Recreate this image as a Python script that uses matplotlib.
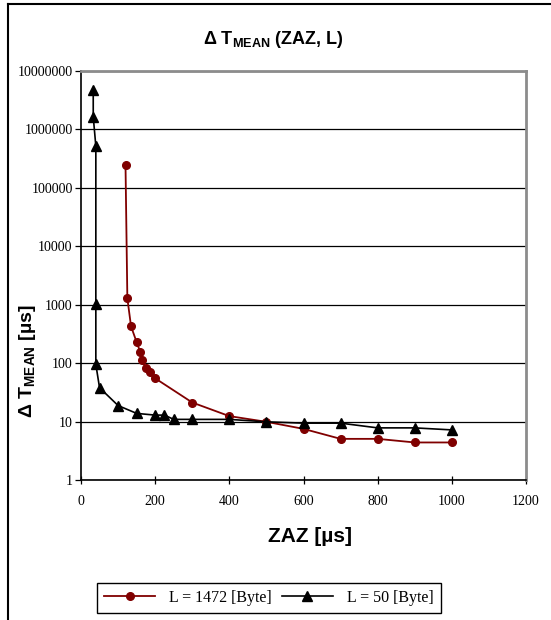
import numpy as np
import matplotlib
matplotlib.use("Agg")
import matplotlib.pyplot as plt
from matplotlib.lines import Line2D

# L = 1472 Byte
zaz_1472 = [120, 125, 135, 150, 160, 165, 175, 185, 200, 300, 400, 500, 600, 700, 800, 900, 1000]
dt_1472 = [250000, 1280, 425, 229, 154, 113, 81, 70, 55, 21.2, 12.4, 9.9, 7.5, 5.06, 5.06, 4.39, 4.39]

# L = 50 Byte
zaz_50 = [33, 33, 40, 40, 40, 50, 100, 150, 200, 225, 250, 300, 400, 500, 600, 700, 800, 900, 1000]
dt_50 = [4700000, 1650000, 520000, 1010, 95, 38, 18.8, 13.8, 12.9, 12.9, 10.9, 10.9, 10.9, 9.9, 9.4, 9.4, 7.8, 7.8, 7.2]

x_ticks = [0, 200, 400, 600, 800, 1000, 1200]
y_ticks = [1, 10, 100, 1000, 10000, 100000, 1000000, 10000000]

plt.rcParams['mathtext.fontset'] = 'custom'
plt.rcParams['mathtext.rm'] = 'Liberation Sans'
plt.rcParams['mathtext.bf'] = 'Liberation Sans:bold'

fig = plt.figure(figsize=(5.51, 6.2), dpi=100)
ax = fig.add_axes([81/551, 1 - 480/620, 445/551, 409/620])

ax.plot(zaz_1472, dt_1472, color='#800000', lw=1.3, marker='o', ms=5.5,
        label='L = 1472 [Byte]')
ax.plot(zaz_50, dt_50, color='black', lw=1.2, marker='^', ms=6.5,
        label='L = 50 [Byte]')

ax.set_yscale('log')
ax.set_xlim(0, 1200)
ax.set_ylim(1, 1e7)
ax.set_xticks(x_ticks)
ax.set_yticks(y_ticks)
ax.set_yticklabels([str(v) for v in y_ticks])
ax.minorticks_off()
ax.yaxis.grid(True, color='black', lw=0.9)
ax.set_axisbelow(True)

for lab in ax.get_xticklabels() + ax.get_yticklabels():
    lab.set_fontfamily('Liberation Serif')
    lab.set_fontsize(10)
ax.tick_params(axis='y', direction='out', length=4, width=0.9, pad=2)
ax.tick_params(axis='x', direction='inout', length=6, width=0.9, pad=8)

ax.spines['left'].set_color('black')
ax.spines['bottom'].set_color('black')
ax.spines['left'].set_linewidth(1.2)
ax.spines['bottom'].set_linewidth(1.2)
ax.spines['top'].set_color('#8c8c8c')
ax.spines['right'].set_color('#8c8c8c')
ax.spines['top'].set_linewidth(2)
ax.spines['right'].set_linewidth(2)

fig.text(273/551, 1 - 40/620, r'Δ T$_{\mathbf{MEAN}}$ (ZAZ, L)', ha='center', va='center',
         fontsize=13, fontweight='bold', family='Liberation Sans')
fig.text(310/551, 1 - 537/620, 'ZAZ [µs]', ha='center', va='center',
         fontsize=15, fontweight='bold', family='Liberation Sans')
fig.text(27/551, 1 - 361/620, r'Δ T$_{\mathbf{MEAN}}$ [µs]', ha='center', va='center',
         rotation=90, fontsize=14, fontweight='bold', family='Liberation Sans')

leg = fig.legend(loc='center', bbox_to_anchor=(269/551, 1 - 598/620), ncol=2,
                 frameon=True, fancybox=False, edgecolor='black', framealpha=1,
                 prop={'family': 'Liberation Serif', 'size': 11.5},
                 handlelength=3.2, columnspacing=0.6, handletextpad=0.9,
                 borderpad=0.45)
leg.get_frame().set_linewidth(1.0)

# outer chart border (left and top)
fig.add_artist(Line2D([8/551, 8/551], [0, 1 - 4/620], color='black', lw=1.5,
                      transform=fig.transFigure))
fig.add_artist(Line2D([8/551, 1], [1 - 4/620, 1 - 4/620], color='black', lw=1.5,
                      transform=fig.transFigure))

fig.savefig('out.png', dpi=100)
